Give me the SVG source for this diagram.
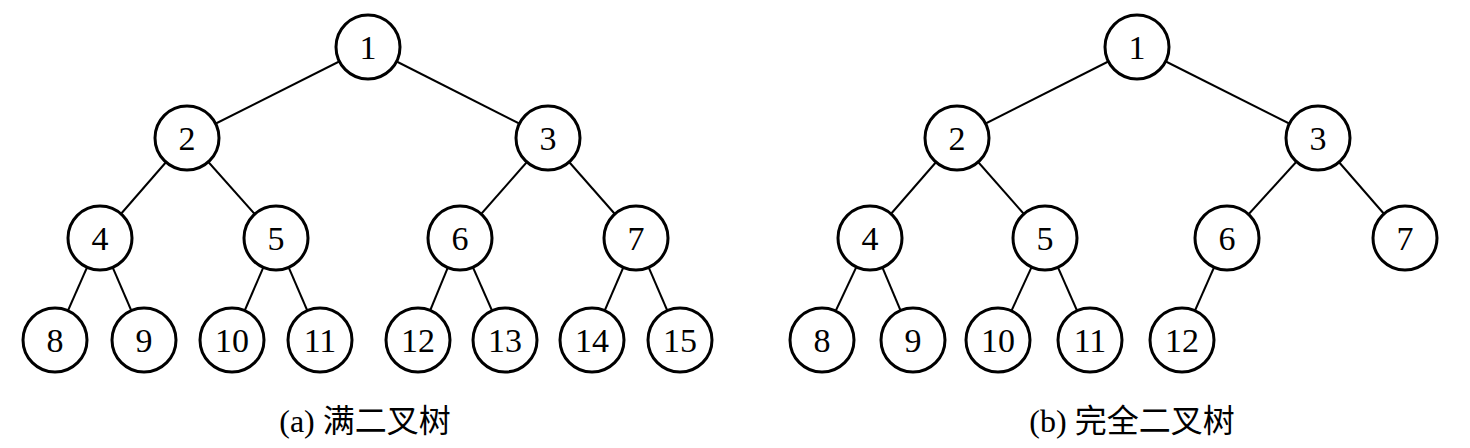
<svg xmlns="http://www.w3.org/2000/svg" width="1470" height="448" viewBox="0 0 1470 448">
<style>
.e line{stroke:#000;stroke-width:2}
.n circle{fill:#fff;stroke:#000;stroke-width:3}
.n text{font-family:"Liberation Serif","Noto Sans CJK SC",serif;font-size:34px;text-anchor:middle;dominant-baseline:central;fill:#000}
.cap{font-family:"Liberation Serif","Noto Sans CJK SC",serif;font-size:32px;text-anchor:middle;fill:#000}
</style>
<rect width="1470" height="448" fill="#fff"/>
<g id="connectors" class="e">
<line x1="368" y1="47" x2="187" y2="138"/>
<line x1="368" y1="47" x2="548" y2="138"/>
<line x1="187" y1="138" x2="100" y2="238"/>
<line x1="187" y1="138" x2="276" y2="238"/>
<line x1="548" y1="138" x2="460" y2="238"/>
<line x1="548" y1="138" x2="636" y2="238"/>
<line x1="100" y1="238" x2="55" y2="340"/>
<line x1="100" y1="238" x2="144" y2="340"/>
<line x1="276" y1="238" x2="232" y2="340"/>
<line x1="276" y1="238" x2="320" y2="340"/>
<line x1="460" y1="238" x2="418" y2="340"/>
<line x1="460" y1="238" x2="505" y2="340"/>
<line x1="636" y1="238" x2="592" y2="340"/>
<line x1="636" y1="238" x2="680" y2="340"/>
<line x1="1137" y1="47" x2="957" y2="138"/>
<line x1="1137" y1="47" x2="1318" y2="138"/>
<line x1="957" y1="138" x2="870" y2="238"/>
<line x1="957" y1="138" x2="1045" y2="238"/>
<line x1="1318" y1="138" x2="1227" y2="238"/>
<line x1="1318" y1="138" x2="1405" y2="238"/>
<line x1="870" y1="238" x2="822" y2="340"/>
<line x1="870" y1="238" x2="913" y2="340"/>
<line x1="1045" y1="238" x2="998" y2="340"/>
<line x1="1045" y1="238" x2="1090" y2="340"/>
<line x1="1227" y1="238" x2="1182" y2="340"/>
</g>
<g id="a1" class="n"><circle cx="368" cy="47" r="32"/><text x="368" y="47">1</text></g>
<g id="a2" class="n"><circle cx="187" cy="138" r="32"/><text x="187" y="138">2</text></g>
<g id="a3" class="n"><circle cx="548" cy="138" r="32"/><text x="548" y="138">3</text></g>
<g id="a4" class="n"><circle cx="100" cy="238" r="32"/><text x="100" y="238">4</text></g>
<g id="a5" class="n"><circle cx="276" cy="238" r="32"/><text x="276" y="238">5</text></g>
<g id="a6" class="n"><circle cx="460" cy="238" r="32"/><text x="460" y="238">6</text></g>
<g id="a7" class="n"><circle cx="636" cy="238" r="32"/><text x="636" y="238">7</text></g>
<g id="a8" class="n"><circle cx="55" cy="340" r="32"/><text x="55" y="340">8</text></g>
<g id="a9" class="n"><circle cx="144" cy="340" r="32"/><text x="144" y="340">9</text></g>
<g id="a10" class="n"><circle cx="232" cy="340" r="32"/><text x="232" y="340">10</text></g>
<g id="a11" class="n"><circle cx="320" cy="340" r="32"/><text x="320" y="340">11</text></g>
<g id="a12" class="n"><circle cx="418" cy="340" r="32"/><text x="418" y="340">12</text></g>
<g id="a13" class="n"><circle cx="505" cy="340" r="32"/><text x="505" y="340">13</text></g>
<g id="a14" class="n"><circle cx="592" cy="340" r="32"/><text x="592" y="340">14</text></g>
<g id="a15" class="n"><circle cx="680" cy="340" r="32"/><text x="680" y="340">15</text></g>
<g id="b1" class="n"><circle cx="1137" cy="47" r="32"/><text x="1137" y="47">1</text></g>
<g id="b2" class="n"><circle cx="957" cy="138" r="32"/><text x="957" y="138">2</text></g>
<g id="b3" class="n"><circle cx="1318" cy="138" r="32"/><text x="1318" y="138">3</text></g>
<g id="b4" class="n"><circle cx="870" cy="238" r="32"/><text x="870" y="238">4</text></g>
<g id="b5" class="n"><circle cx="1045" cy="238" r="32"/><text x="1045" y="238">5</text></g>
<g id="b6" class="n"><circle cx="1227" cy="238" r="32"/><text x="1227" y="238">6</text></g>
<g id="b7" class="n"><circle cx="1405" cy="238" r="32"/><text x="1405" y="238">7</text></g>
<g id="b8" class="n"><circle cx="822" cy="340" r="32"/><text x="822" y="340">8</text></g>
<g id="b9" class="n"><circle cx="913" cy="340" r="32"/><text x="913" y="340">9</text></g>
<g id="b10" class="n"><circle cx="998" cy="340" r="32"/><text x="998" y="340">10</text></g>
<g id="b11" class="n"><circle cx="1090" cy="340" r="32"/><text x="1090" y="340">11</text></g>
<g id="b12" class="n"><circle cx="1182" cy="340" r="32"/><text x="1182" y="340">12</text></g>
<text class="cap" x="365" y="432">(a) 满二叉树</text>
<text class="cap" x="1132" y="432">(b) 完全二叉树</text>
</svg>
